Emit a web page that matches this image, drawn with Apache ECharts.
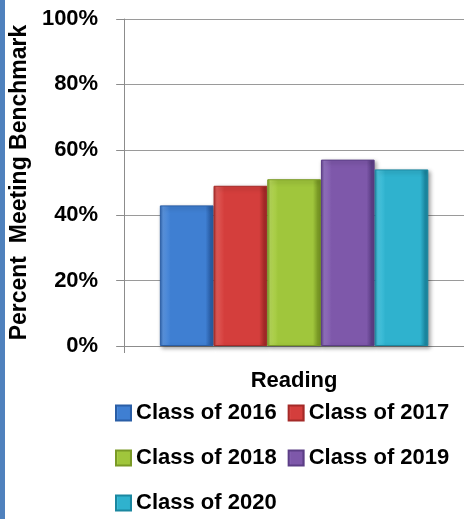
<!DOCTYPE html>
<html>
<head>
<meta charset="utf-8">
<script src="https://cdn.jsdelivr.net/npm/echarts@6/dist/echarts.min.js"></script>
<style>
html,body{margin:0;padding:0;background:#fff;}
#c{width:464px;height:519px;}
</style>
</head>
<body>
<div id="c"></div>
<script>
const categories = ['Reading'];
const seriesNames = ['Class of 2016', 'Class of 2017', 'Class of 2018', 'Class of 2019', 'Class of 2020'];
const class2016 = [43];
const class2017 = [49];
const class2018 = [51];
const class2019 = [57];
const class2020 = [54];
const yTicks = [0, 20, 40, 60, 80, 100];
const seriesValues = [class2016, class2017, class2018, class2019, class2020];

const baseColors = ['#3f7fd2', '#d43e3c', '#a0c63c', '#7e58aa', '#2fb2ce'];
const lightColors = ['#5c97e3', '#e45c59', '#b8da58', '#9574c2', '#4cc8e2'];
const darkColors = ['#2a5ea6', '#a42a28', '#7a9a26', '#5c3e86', '#1b87a0'];

const FONT = 'Liberation Sans';

function grad(i) {
  return {
    type: 'linear', x: 0, y: 0, x2: 1, y2: 0,
    colorStops: [
      { offset: 0, color: darkColors[i] },
      { offset: 0.06, color: lightColors[i] },
      { offset: 0.2, color: baseColors[i] },
      { offset: 0.85, color: baseColors[i] },
      { offset: 0.94, color: darkColors[i] },
      { offset: 1, color: darkColors[i] }
    ]
  };
}

const chart = echarts.init(document.getElementById('c'), null, { renderer: 'canvas' });

const series = seriesNames.map((name, i) => ({
  name: name,
  type: 'bar',
  data: seriesValues[i],
  barGap: '0%',
  barCategoryGap: '21%',
  itemStyle: {
    color: grad(i),
    borderColor: darkColors[i],
    borderWidth: 1,
    shadowColor: 'rgba(0,0,0,0.35)',
    shadowBlur: 4,
    shadowOffsetX: 2,
    shadowOffsetY: 2
  }
}));

chart.setOption({
  animation: false,
  backgroundColor: '#ffffff',
  color: baseColors,
  graphic: [{
    type: 'rect',
    left: 0, top: 0,
    shape: { x: 0, y: 0, width: 5, height: 519 },
    style: { fill: '#4f81bd' }
  }],
  grid: { left: 120, top: 19, width: 352, height: 327, containLabel: false },
  xAxis: {
    type: 'category',
    data: categories,
    axisLine: { show: true, lineStyle: { color: '#8c8c8c', width: 1 } },
    axisTick: { show: true, length: 7, lineStyle: { color: '#8c8c8c' } },
    axisLabel: {
      margin: 24,
      color: '#000',
      fontFamily: FONT,
      fontWeight: 'bold',
      fontSize: 22
    }
  },
  yAxis: {
    type: 'value',
    min: 0,
    max: 100,
    interval: 20,
    name: 'Percent  Meeting Benchmark',
    nameLocation: 'middle',
    nameGap: 87,
    nameTextStyle: {
      color: '#000',
      fontFamily: FONT,
      fontWeight: 'bold',
      fontSize: 23
    },
    axisLine: { show: true, lineStyle: { color: '#8c8c8c', width: 1 } },
    axisTick: { show: true, length: 8, lineStyle: { color: '#8c8c8c' } },
    splitLine: { show: true, lineStyle: { color: '#9a9a9a', width: 1 } },
    axisLabel: {
      margin: 26,
      color: '#000',
      fontFamily: FONT,
      fontWeight: 'bold',
      fontSize: 22,
      formatter: function (v) { return yTicks.indexOf(v) >= 0 ? v + '%' : ''; }
    }
  },
  legend: {
    left: 115,
    top: 396,
    width: 350,
    padding: 0,
    itemGap: 11,
    itemWidth: 15,
    itemHeight: 15,
    icon: 'rect',
    data: seriesNames,
    textStyle: {
      color: '#000',
      fontFamily: FONT,
      fontWeight: 'bold',
      fontSize: 22,
      lineHeight: 34
    }
  },
  series: series
});
</script>
</body>
</html>
